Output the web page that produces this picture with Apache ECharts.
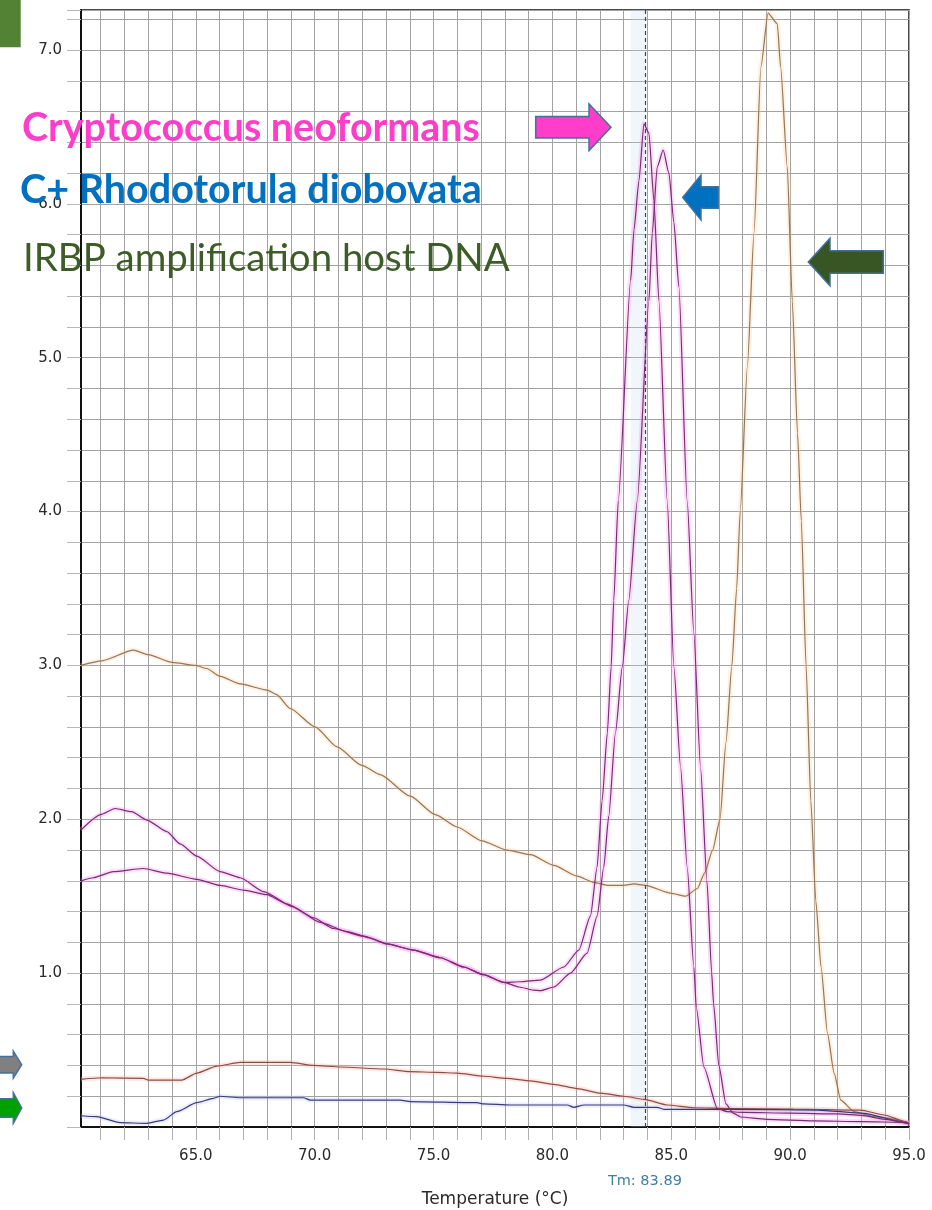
<!DOCTYPE html>
<html><head><meta charset="utf-8">
<script src="https://cdn.jsdelivr.net/npm/echarts@6/dist/echarts.min.js"></script>
<style>html,body{margin:0;padding:0;background:#fff}#c{width:932px;height:1210px}</style>
</head><body><div id="c"></div>
<script>
// ---------- data ----------
const xMin = 60.17, xMax = 95.0;
const yMin = 0, yMax = 7.26;
const xTickValues = [61,62,63,64,65,66,67,68,69,70,71,72,73,74,75,76,77,78,79,80,81,82,83,84,85,86,87,88,89,90,91,92,93,94,95];
const xLabelValues = [65,70,75,80,85,90,95];
const tmValue = 83.89;
const tmBand = [83.3, 83.95];

const tempIRBP = [60.17,61.04,62.37,63.0,64.0,65.0,65.46,66.0,66.87,68.0,68.4,68.97,70.02,70.94,71.99,72.76,74.02,75.08,75.99,77.04,78.09,79.08,80.06,81.04,81.74,82.37,83.0,83.43,83.92,84.97,85.6,86.1,86.4,86.74,87.05,87.3,87.55,87.75,87.9,88.2,88.48,88.77,89.07,89.46,89.6,89.88,90.09,90.31,90.47,90.67,90.87,91.08,91.3,91.57,91.85,92.13,92.69,93.53,94.09,94.79,95.0];
const valIRBP  = [3.0,3.03,3.10,3.07,3.02,3.0,2.98,2.93,2.88,2.84,2.81,2.72,2.60,2.47,2.35,2.29,2.15,2.03,1.95,1.86,1.80,1.77,1.70,1.63,1.59,1.57,1.57,1.58,1.57,1.52,1.50,1.55,1.65,1.80,2.0,2.5,3.0,3.5,4.0,4.94,5.81,6.89,7.24,7.17,6.89,6.24,5.37,4.51,3.94,3.0,2.12,1.47,1.04,0.61,0.35,0.175,0.10,0.067,0.058,0.034,0.02];

const tempCrypto = [60.17,61.0,61.6,62.3,62.94,63.78,64.34,65.04,66.02,66.87,67.85,69.1,70.23,71.36,72.3,73.04,74.16,75.29,76.27,77.11,77.95,78.65,79.5,80.48,81.11,81.6,81.88,82.09,82.31,82.47,82.58,82.77,83.29,83.43,83.64,83.85,84.06,84.27,84.48,84.83,85.11,85.39,85.67,85.95,86.05,86.37,86.94,87.36,88.0,90.0,92.0,93.0,94.0,95.0];
const valCrypto  = [1.93,2.03,2.07,2.05,1.995,1.92,1.84,1.76,1.66,1.62,1.53,1.43,1.33,1.27,1.23,1.19,1.15,1.10,1.04,0.99,0.94,0.944,0.955,1.04,1.15,1.37,1.69,2.12,2.56,2.99,3.42,4.07,5.5,5.83,6.15,6.52,6.46,6.02,5.37,4.07,2.99,2.34,1.69,1.04,0.78,0.39,0.12,0.10,0.095,0.09,0.085,0.075,0.05,0.02];

const tempRhodo = [60.17,60.69,61.53,62.79,63.78,65.04,66.02,67.0,67.99,68.83,69.95,70.79,72.06,73.04,74.16,75.29,76.27,77.11,77.95,78.6,79.2,79.5,80.06,80.76,81.46,81.88,82.16,82.37,82.65,82.94,83.21,83.57,84.06,84.2,84.41,84.66,84.9,85.11,85.32,85.67,85.95,86.23,86.5,86.7,86.78,87.0,87.3,87.6,87.92,89.0,91.0,93.0,94.87,95.0];
const valRhodo  = [1.60,1.62,1.66,1.68,1.65,1.61,1.57,1.54,1.51,1.45,1.36,1.29,1.24,1.19,1.15,1.10,1.04,0.99,0.94,0.91,0.89,0.886,0.91,1.0,1.13,1.37,1.69,2.02,2.56,2.99,3.42,4.07,5.37,5.81,6.24,6.35,6.2,5.88,5.46,4.07,3.21,2.34,1.6,1.0,0.8,0.4,0.15,0.09,0.065,0.05,0.04,0.035,0.03,0.02];

const tempNeg1 = [60.17,61.04,62.8,63.0,64.41,65.04,65.88,66.87,67.99,68.97,69.95,71.08,72.9,74.02,75.15,75.99,77.11,78.09,79.08,80.06,81.04,82.02,83.0,83.85,84.83,85.95,87.5,90.16,92.97,93.95,94.87,95.0];
const valNeg1  = [0.31,0.32,0.316,0.305,0.305,0.35,0.396,0.42,0.42,0.42,0.40,0.39,0.377,0.36,0.355,0.35,0.33,0.316,0.30,0.277,0.25,0.22,0.20,0.18,0.143,0.125,0.12,0.117,0.11,0.078,0.034,0.025];

const tempNeg2 = [60.17,60.83,61.81,62.94,63.64,64.2,65.04,65.74,66.02,66.87,68.83,69.53,69.81,73.6,74.02,76.83,77.11,78.23,80.62,80.9,81.32,83.0,83.43,84.41,84.69,87.5,91.15,93.1,94.87,95.0];
const valNeg2  = [0.073,0.067,0.028,0.024,0.045,0.10,0.158,0.186,0.20,0.19,0.19,0.19,0.175,0.175,0.165,0.158,0.15,0.143,0.143,0.128,0.143,0.143,0.128,0.128,0.115,0.115,0.11,0.089,0.028,0.02];

const labelCrypto = 'Cryptococcus neoformans';
const labelRhodo = 'C+ Rhodotorula diobovata';
const labelIRBP = 'IRBP amplification host DNA';
const xAxisName = 'Temperature (°C)';

// ---------- helpers ----------
function pairs(xs, ys) { return xs.map((x, i) => [x, ys[i]]); }
function fitSize(text, weight, family, width) {
  const ctx = document.createElement('canvas').getContext('2d');
  ctx.font = weight + ' 100px ' + family;
  return 100 * width / ctx.measureText(text).width;
}
function lineSeries(name, xs, ys, color, width, z) {
  return {
    name, type: 'line', data: pairs(xs, ys), showSymbol: false, symbol: 'none',
    smooth: 0.2, smoothMonotone: 'x', z: z, silent: true,
    lineStyle: { color: color, width: width }
  };
}
const sCrypto = fitSize(labelCrypto, 'bold', 'Lato', 458);
const sRhodo = fitSize(labelRhodo, 'bold', 'Lato', 462);
const sIRBP = fitSize(labelIRBP, 'normal', 'Lato', 487);

function arrowR(x0, x1, x2, yc, hb, hh) {
  return [[x0, yc - hb], [x1, yc - hb], [x1, yc - hh], [x2, yc], [x1, yc + hh], [x1, yc + hb], [x0, yc + hb]];
}
function arrowL(xt, x1, x2, yc, hb, hh) {
  return [[xt, yc], [x1, yc - hh], [x1, yc - hb], [x2, yc - hb], [x2, yc + hb], [x1, yc + hb], [x1, yc + hh]];
}
const outline = '#41719C';

const chart = echarts.init(document.getElementById('c'), null, { renderer: 'canvas' });
const series = [
  lineSeries('IRBP glow', tempIRBP, valIRBP, 'rgba(255,205,150,0.3)', 5, 1),
  lineSeries('neg1 glow', tempNeg1, valNeg1, 'rgba(255,175,175,0.3)', 5, 1),
  lineSeries('neg2 glow', tempNeg2, valNeg2, 'rgba(185,195,255,0.3)', 5, 1),
  lineSeries('Rhodo glow', tempRhodo, valRhodo, 'rgba(255,140,240,0.3)', 5, 1),
  lineSeries('Crypto glow', tempCrypto, valCrypto, 'rgba(255,140,240,0.3)', 5, 1),
  lineSeries('IRBP', tempIRBP, valIRBP, '#8f765e', 1.2, 2),
  lineSeries('neg1', tempNeg1, valNeg1, '#8a4e40', 1.2, 3),
  lineSeries('neg2', tempNeg2, valNeg2, '#3a3a78', 1.2, 3),
  lineSeries('Rhodo', tempRhodo, valRhodo, '#733070', 1.2, 4),
  lineSeries('Crypto', tempCrypto, valCrypto, '#733070', 1.2, 4)
];
series[9].markLine = {
  symbol: 'none', silent: true, animation: false,
  lineStyle: { type: [4, 3], color: '#2f4a66', width: 1.2 },
  label: { show: true, position: 'start', formatter: 'Tm: ' + tmValue.toFixed(2), color: '#3f7f9f',
           fontSize: 14.5, fontFamily: 'DejaVu Sans', distance: 47 },
  data: [{ xAxis: tmValue }]
};
series[9].markArea = {
  silent: true, itemStyle: { color: 'rgba(195,220,240,0.25)' },
  data: [[{ xAxis: tmBand[0] }, { xAxis: tmBand[1] }]]
};

chart.setOption({
  animation: false,
  backgroundColor: '#fff',
  grid: { left: 81, right: 23, top: 10, bottom: 83, show: true, borderColor: '#111', borderWidth: 1.5,
          containLabel: false, outerBoundsMode: 'none' },
  xAxis: {
    type: 'value', min: xMin, max: xMax,
    name: xAxisName, nameLocation: 'middle', nameGap: 64,
    nameTextStyle: { fontFamily: 'DejaVu Sans', fontSize: 17, color: '#2a2a2a' },
    axisLine: { show: true, onZero: false, lineStyle: { color: '#111', width: 2 } },
    axisTick: { show: true, length: 13, customValues: xTickValues, lineStyle: { color: '#b0b0b0' } },
    axisLabel: { customValues: xLabelValues, margin: 22, fontFamily: 'DejaVu Sans', fontSize: 15, color: '#2a2a2a',
                 formatter: v => v.toFixed(1) },
    splitLine: { show: true, lineStyle: { color: '#a2a2a2', width: 1 } }
  },
  yAxis: {
    type: 'value', min: yMin, max: yMax, interval: 0.2,
    axisLine: { show: true, lineStyle: { color: '#111', width: 2 } },
    axisTick: { show: true, length: 14, lineStyle: { color: '#b8b8b8' } },
    axisLabel: { margin: 19, fontFamily: 'DejaVu Sans', fontSize: 15, color: '#2a2a2a',
      formatter: v => (Math.abs(v - Math.round(v)) < 1e-6 && Math.round(v) > 0) ? Math.round(v).toFixed(1) : '' },
    splitLine: { show: true, lineStyle: { color: '#a2a2a2', width: 1 } }
  },
  series: series,
  graphic: [
    { type: 'rect', shape: { x: 0, y: 0, width: 20.7, height: 47.3 }, style: { fill: '#548235' }, z: 100 },
    { type: 'text', x: 22, y: 128, z: 100, style: { text: labelCrypto, font: 'bold ' + sCrypto.toFixed(2) + 'px Lato', fill: '#FF3DC8', verticalAlign: 'middle' } },
    { type: 'text', x: 20, y: 190, z: 100, style: { text: labelRhodo, font: 'bold ' + sRhodo.toFixed(2) + 'px Lato', fill: '#0070C0', verticalAlign: 'middle' } },
    { type: 'text', x: 23, y: 259, z: 100, style: { text: labelIRBP, font: sIRBP.toFixed(2) + 'px Lato', fill: '#3D5C27', verticalAlign: 'middle' } },
    { type: 'polygon', z: 100, shape: { points: arrowR(535.7, 589, 611, 127.3, 10.8, 23.3) }, style: { fill: '#FF3DC8', stroke: outline, lineWidth: 1.5 } },
    { type: 'polygon', z: 100, shape: { points: arrowL(682.7, 701, 718.3, 197.5, 10.8, 22.5) }, style: { fill: '#0070C0', stroke: outline, lineWidth: 1.5 } },
    { type: 'polygon', z: 100, shape: { points: arrowL(808.3, 830, 883.3, 262, 11.3, 23.7) }, style: { fill: '#375623', stroke: outline, lineWidth: 1.5 } },
    { type: 'polygon', z: 100, shape: { points: arrowR(-3, 13.3, 21.7, 1064.7, 8.2, 13.5) }, style: { fill: '#808080', stroke: outline, lineWidth: 1.5 } },
    { type: 'polygon', z: 100, shape: { points: arrowR(-3, 13.3, 21.7, 1108, 9.3, 15.3) }, style: { fill: '#00A000', stroke: outline, lineWidth: 1.5 } }
  ]
});
</script>
</body></html>
